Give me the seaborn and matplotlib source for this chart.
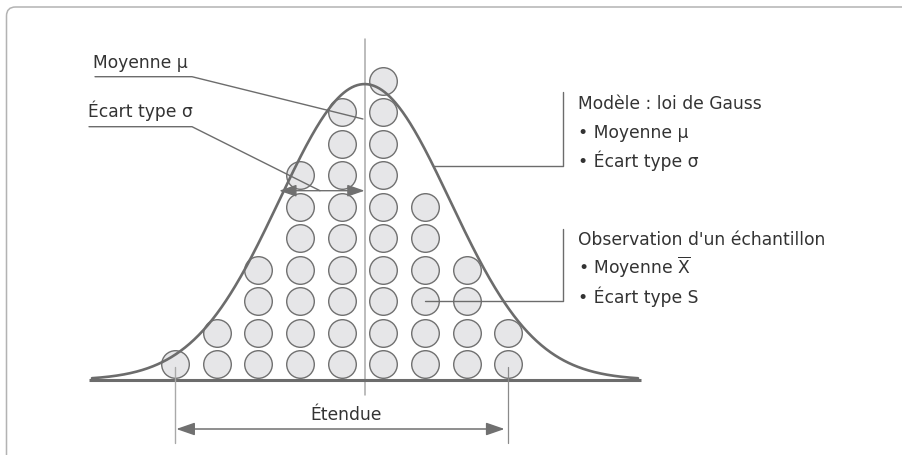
import numpy as np
import pandas as pd
import matplotlib
matplotlib.use("Agg")
import matplotlib.pyplot as plt
import seaborn as sns
from matplotlib.patches import FancyBboxPatch
from matplotlib.transforms import IdentityTransform

# ---------------- data ----------------
column_positions = [1, 2, 3, 4, 5, 6, 7, 8, 9]
column_counts = [1, 2, 4, 7, 9, 10, 6, 4, 2]
mu = 5.55          # model mean (column units)
sigma = 2.05       # model standard deviation (column units)
peak = 9.4         # curve peak height (row units)

label_mean = "Moyenne \u03bc"
label_sigma = "\u00c9cart type \u03c3"
label_range = "\u00c9tendue"
model_lines = ["Mod\u00e8le : loi de Gauss", "\u2022 Moyenne \u03bc", "\u2022 \u00c9cart type \u03c3"]
sample_lines = ["Observation d'un \u00e9chantillon", "\u2022 Moyenne $\\overline{\\mathrm{X}}$", "\u2022 \u00c9cart type S"]

# ---------------- style ----------------
sns.set_theme(style="white")
plt.rcParams["font.family"] = ["DejaVu Sans"]
plt.rcParams["mathtext.fontset"] = "dejavusans"

W, H = 903, 456
fig = plt.figure(figsize=(W / 100, H / 100), dpi=100)
ax = fig.add_axes([0, 0, 1, 1])
ax.set_axis_off()

# pixel -> data helpers for layout only
X0, DXP, Y0, DYP = 175.0, 41.67, 381.0, 31.48
def dx(p):
    return 1 + (p - X0) / DXP
def dy(p):
    return (Y0 - p) / DYP

ax.set_xlim(dx(0), dx(W))
ax.set_ylim(dy(H), dy(0))

LINE = "#6c6c6c"
LIGHT = "#a9a9a9"
TEXT = "#333333"
FS = 12.3

# frame (rounded top-left, runs off right/bottom)
frame = FancyBboxPatch((6.5, -30), 960, H - 8 + 30, boxstyle="round,pad=0,rounding_size=9",
                       transform=IdentityTransform(), fill=False, edgecolor="#b3b3b3",
                       linewidth=1.1, clip_on=False)
fig.add_artist(frame)

# circles (observations)
rows = []
for xpos, cnt in zip(column_positions, column_counts):
    for k in range(1, cnt + 1):
        rows.append({"x": xpos, "y": k - 0.5})
df = pd.DataFrame(rows)
sns.scatterplot(data=df, x="x", y="y", s=395, color="#e6e6e8", edgecolor="#707070",
                linewidth=1.0, ax=ax, zorder=2, legend=False)

# baseline
ax.plot([dx(89), dx(641)], [0, 0], color=LINE, lw=2.2, zorder=3, solid_capstyle="butt")

# Gaussian model curve
xs = np.linspace(dx(92), dx(638), 600)
ys = peak * np.exp(-0.5 * ((xs - mu) / sigma) ** 2)
sns.lineplot(x=xs, y=ys, ax=ax, color=LINE, linewidth=1.9, zorder=4, sort=False)

# mean vertical line
ax.plot([mu, mu], [dy(396), dy(40)], color=LIGHT, lw=1.1, zorder=1)

# range (étendue)
xmin, xmax = min(column_positions), max(column_positions)
ax.plot([xmin, xmin], [0.4, dy(444)], color=LIGHT, lw=1.0, zorder=3)
ax.plot([xmax, xmax], [0.4, dy(444)], color="#8a8a8a", lw=0.9, zorder=3)
arrow_style = "<|-|>,head_length=0.75,head_width=0.26"
ax.annotate("", xy=(xmin + 0.03, dy(430)), xytext=(xmax - 0.09, dy(430)),
            arrowprops=dict(arrowstyle=arrow_style, color="#707070", lw=1.1,
                            mutation_scale=15, shrinkA=0, shrinkB=0))
ax.text(dx(346), dy(420), label_range, ha="center", va="baseline", fontsize=FS, color=TEXT)

# sigma arrow
ys_sig = dy(191.7)
ax.annotate("", xy=(mu - sigma, ys_sig), xytext=(mu, ys_sig),
            arrowprops=dict(arrowstyle=arrow_style, color="#707070", lw=1.0,
                            mutation_scale=14, shrinkA=0, shrinkB=0), zorder=5)

# left annotations
ax.text(dx(93), dy(67.7), label_mean, ha="left", va="baseline", fontsize=FS, color=TEXT)
ax.plot([dx(95), dx(192), mu - 0.04], [dy(77.7), dy(77.7), dy(120)], color=LINE, lw=1.0, zorder=5)
ax.text(dx(88), dy(117.3), label_sigma, ha="left", va="baseline", fontsize=FS, color=TEXT)
ax.plot([dx(89), dx(192), dx(320)], [dy(127.7), dy(127.7), ys_sig], color=LINE, lw=1.0, zorder=5)

# right bracket 1 (model)
yb1 = dy(167.3)
xc = mu + sigma * np.sqrt(-2 * np.log(yb1 / peak))
xbr = dx(563)
ax.plot([xc, xbr, xbr], [yb1, yb1, dy(93)], color=LINE, lw=1.0, zorder=5)
for i, t in enumerate(model_lines):
    ax.text(dx(578), dy(109 + 29 * i), t, ha="left", va="baseline", fontsize=FS, color=TEXT)

# right bracket 2 (sample)
yb2 = 2.5
ax.plot([7.0, xbr, xbr], [yb2, yb2, dy(230)], color=LINE, lw=1.0, zorder=5)
for i, t in enumerate(sample_lines):
    ax.text(dx(578), dy(245 + 29 * i), t, ha="left", va="baseline", fontsize=FS, color=TEXT)

fig.savefig("out.png", dpi=100)
